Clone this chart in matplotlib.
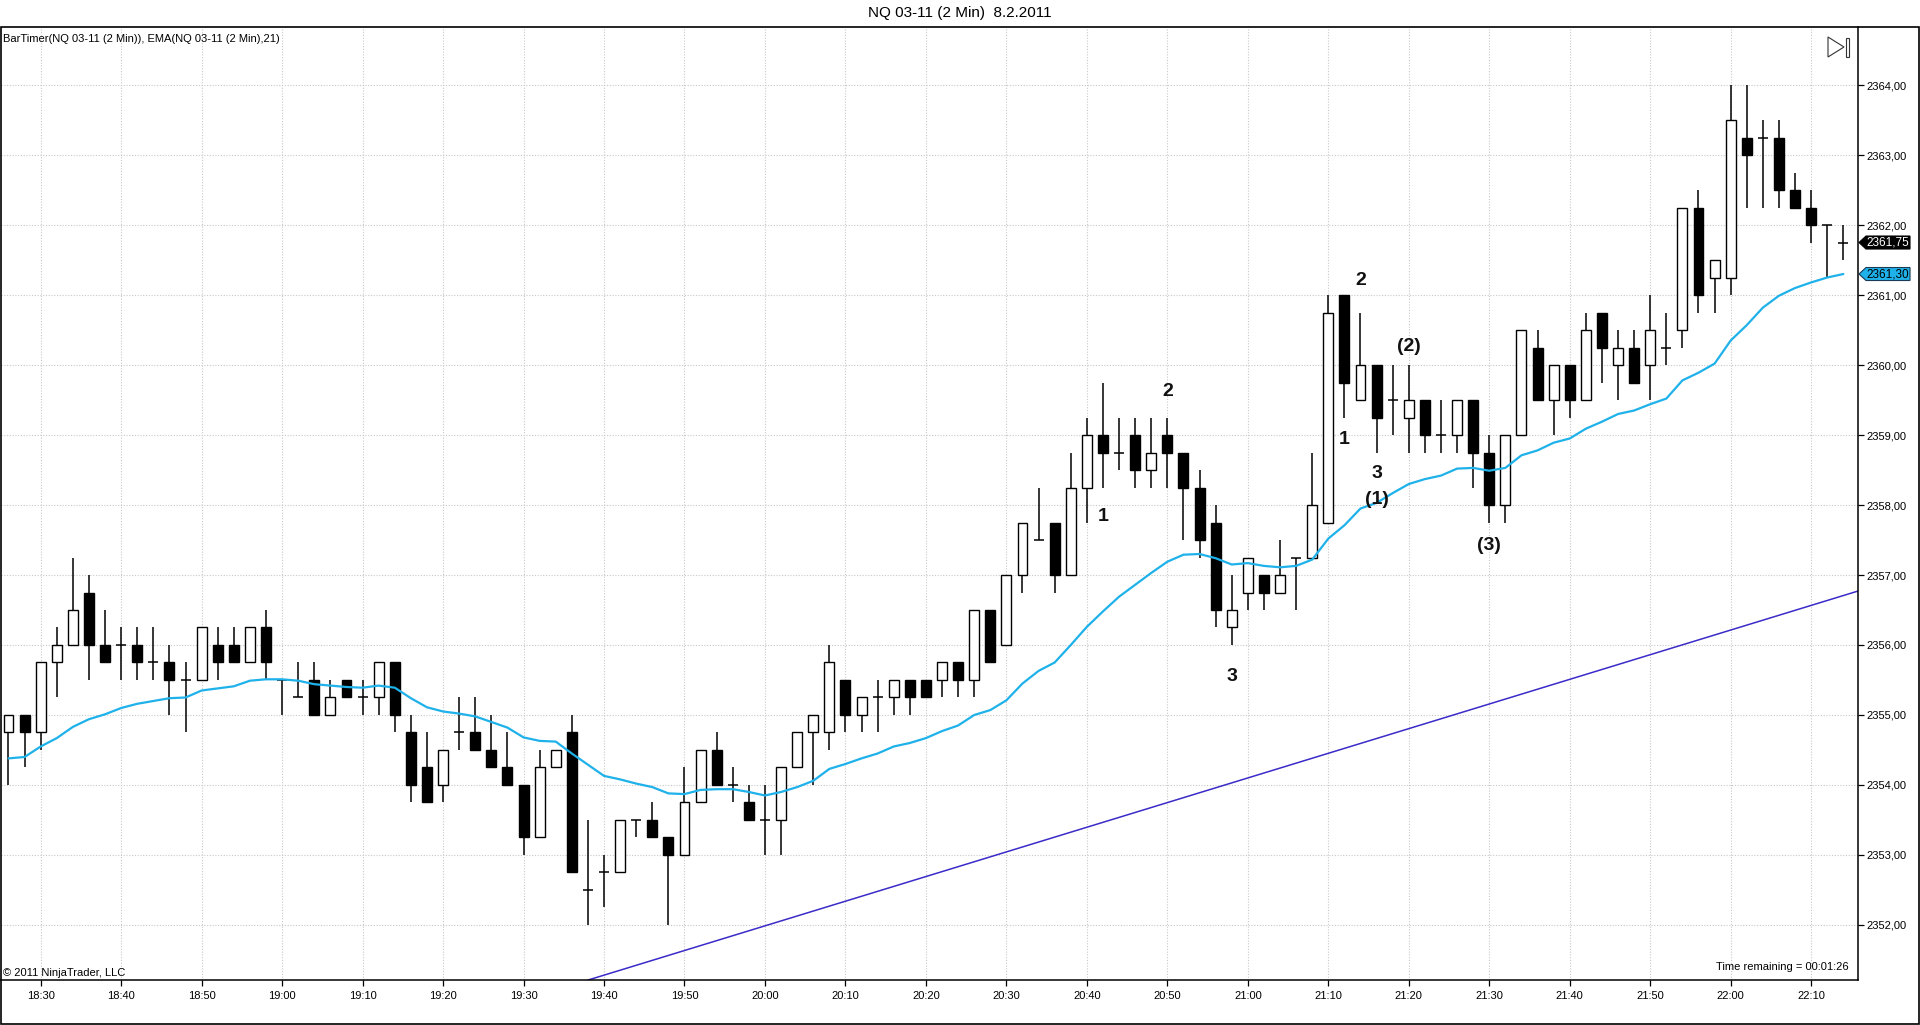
import matplotlib
matplotlib.use("Agg")
import matplotlib.pyplot as plt
import matplotlib.transforms as mtransforms
from matplotlib.patches import Polygon, Rectangle
from matplotlib.ticker import FuncFormatter, FixedLocator

plt.rcParams['font.family'] = ['Liberation Sans', 'DejaVu Sans']

# ---------------- data ----------------
start_time = "18:26"          # first bar
bar_minutes = 2
opens = [2354.75, 2355.00, 2354.75, 2355.75, 2356.00, 2356.75, 2356.00, 2356.00, 2356.00, 2355.75,
         2355.75, 2355.50, 2355.50, 2356.00, 2356.00, 2355.75, 2356.25, 2355.50, 2355.25, 2355.50,
         2355.00, 2355.50, 2355.25, 2355.25, 2355.75, 2354.75, 2354.25, 2354.00, 2354.75, 2354.75,
         2354.50, 2354.25, 2354.00, 2353.25, 2354.25, 2354.75, 2352.50, 2352.75, 2352.75, 2353.50,
         2353.50, 2353.25, 2353.00, 2353.75, 2354.50, 2354.00, 2353.75, 2353.50, 2353.50, 2354.25,
         2354.75, 2354.75, 2355.50, 2355.00, 2355.25, 2355.25, 2355.50, 2355.50, 2355.50, 2355.75,
         2355.50, 2356.50, 2356.00, 2357.00, 2357.50, 2357.75, 2357.00, 2358.25, 2359.00, 2358.75,
         2359.00, 2358.50, 2359.00, 2358.75, 2358.25, 2357.75, 2356.25, 2356.75, 2357.00, 2356.75,
         2357.25, 2357.25, 2357.75, 2361.00, 2359.50, 2360.00, 2359.50, 2359.25, 2359.50, 2359.00,
         2359.00, 2359.50, 2358.75, 2358.00, 2359.00, 2360.25, 2359.50, 2360.00, 2359.50, 2360.75,
         2360.00, 2360.25, 2360.00, 2360.25, 2360.50, 2362.25, 2361.25, 2361.25, 2363.25, 2363.25,
         2363.25, 2362.50, 2362.25, 2362.00, 2361.75]
highs = [2355.00, 2355.00, 2355.75, 2356.25, 2357.25, 2357.00, 2356.50, 2356.25, 2356.25, 2356.25,
         2356.00, 2355.75, 2356.25, 2356.25, 2356.25, 2356.25, 2356.50, 2355.50, 2355.75, 2355.75,
         2355.50, 2355.50, 2355.50, 2355.75, 2355.75, 2355.00, 2354.75, 2354.50, 2355.25, 2355.25,
         2355.00, 2354.75, 2354.00, 2354.50, 2354.50, 2355.00, 2353.50, 2353.00, 2353.50, 2353.50,
         2353.75, 2353.25, 2354.25, 2354.50, 2354.75, 2354.25, 2354.00, 2354.00, 2354.25, 2354.75,
         2355.00, 2356.00, 2355.50, 2355.25, 2355.50, 2355.50, 2355.50, 2355.50, 2355.75, 2355.75,
         2356.50, 2356.50, 2357.00, 2357.75, 2358.25, 2357.75, 2358.75, 2359.25, 2359.75, 2359.25,
         2359.25, 2359.25, 2359.25, 2358.75, 2358.50, 2358.00, 2357.00, 2357.25, 2357.00, 2357.50,
         2357.25, 2358.75, 2361.00, 2361.00, 2360.75, 2360.00, 2360.00, 2360.00, 2359.50, 2359.50,
         2359.50, 2359.50, 2359.00, 2359.00, 2360.50, 2360.50, 2360.00, 2360.00, 2360.75, 2360.75,
         2360.50, 2360.50, 2361.00, 2360.75, 2362.25, 2362.50, 2361.50, 2364.00, 2364.00, 2363.50,
         2363.50, 2362.75, 2362.50, 2362.00, 2362.00]
lows = [2354.00, 2354.25, 2354.50, 2355.25, 2356.00, 2355.50, 2355.75, 2355.50, 2355.50, 2355.50,
        2355.00, 2354.75, 2355.50, 2355.50, 2355.75, 2355.75, 2355.50, 2355.00, 2355.25, 2355.00,
        2355.00, 2355.25, 2355.00, 2355.00, 2354.75, 2353.75, 2353.75, 2353.75, 2354.50, 2354.50,
        2354.25, 2354.00, 2353.00, 2353.25, 2354.25, 2352.75, 2352.00, 2352.25, 2352.75, 2353.25,
        2353.25, 2352.00, 2353.00, 2353.75, 2354.00, 2353.75, 2353.50, 2353.00, 2353.00, 2354.25,
        2354.00, 2354.50, 2354.75, 2354.75, 2354.75, 2355.00, 2355.00, 2355.25, 2355.25, 2355.25,
        2355.25, 2355.75, 2356.00, 2356.75, 2357.50, 2356.75, 2357.00, 2357.75, 2358.25, 2358.50,
        2358.25, 2358.25, 2358.25, 2357.50, 2357.25, 2356.25, 2356.00, 2356.50, 2356.50, 2356.75,
        2356.50, 2357.25, 2357.75, 2359.25, 2359.50, 2358.75, 2359.00, 2358.75, 2358.75, 2358.75,
        2358.75, 2358.25, 2357.75, 2357.75, 2359.00, 2359.50, 2359.00, 2359.25, 2359.50, 2359.75,
        2359.50, 2359.75, 2359.50, 2360.00, 2360.25, 2360.75, 2360.75, 2361.00, 2362.25, 2362.25,
        2362.25, 2362.25, 2361.75, 2361.25, 2361.50]
closes = [2355.00, 2354.75, 2355.75, 2356.00, 2356.50, 2356.00, 2355.75, 2356.00, 2355.75, 2355.75,
          2355.50, 2355.50, 2356.25, 2355.75, 2355.75, 2356.25, 2355.75, 2355.50, 2355.25, 2355.00,
          2355.25, 2355.25, 2355.25, 2355.75, 2355.00, 2354.00, 2353.75, 2354.50, 2354.75, 2354.50,
          2354.25, 2354.00, 2353.25, 2354.25, 2354.50, 2352.75, 2352.50, 2352.75, 2353.50, 2353.50,
          2353.25, 2353.00, 2353.75, 2354.50, 2354.00, 2354.00, 2353.50, 2353.50, 2354.25, 2354.75,
          2355.00, 2355.75, 2355.00, 2355.25, 2355.25, 2355.50, 2355.25, 2355.25, 2355.75, 2355.50,
          2356.50, 2355.75, 2357.00, 2357.75, 2357.50, 2357.00, 2358.25, 2359.00, 2358.75, 2358.75,
          2358.50, 2358.75, 2358.75, 2358.25, 2357.50, 2356.50, 2356.50, 2357.25, 2356.75, 2357.00,
          2357.25, 2358.00, 2360.75, 2359.75, 2360.00, 2359.25, 2359.50, 2359.50, 2359.00, 2359.00,
          2359.50, 2358.75, 2358.00, 2359.00, 2360.50, 2359.50, 2360.00, 2359.50, 2360.50, 2360.25,
          2360.25, 2359.75, 2360.50, 2360.25, 2362.25, 2361.00, 2361.50, 2363.50, 2363.00, 2363.25,
          2362.50, 2362.25, 2362.00, 2362.00, 2361.75]
ema21 = [2354.38, 2354.40, 2354.55, 2354.67, 2354.83, 2354.94, 2355.01, 2355.10, 2355.16, 2355.20,
         2355.24, 2355.25, 2355.35, 2355.38, 2355.41, 2355.49, 2355.51, 2355.51, 2355.49, 2355.44,
         2355.42, 2355.40, 2355.39, 2355.42, 2355.39, 2355.24, 2355.11, 2355.05, 2355.02, 2354.98,
         2354.90, 2354.82, 2354.68, 2354.63, 2354.62, 2354.45, 2354.29, 2354.13, 2354.08, 2354.02,
         2353.97, 2353.88, 2353.87, 2353.93, 2353.94, 2353.94, 2353.90, 2353.85, 2353.90, 2353.97,
         2354.06, 2354.23, 2354.30, 2354.38, 2354.45, 2354.55, 2354.60, 2354.67, 2354.77, 2354.85,
         2355.00, 2355.07, 2355.21, 2355.45, 2355.63, 2355.75, 2356.00, 2356.26, 2356.48, 2356.69,
         2356.86, 2357.03, 2357.19, 2357.29, 2357.30, 2357.24, 2357.15, 2357.17, 2357.13, 2357.11,
         2357.13, 2357.22, 2357.52, 2357.71, 2357.95, 2358.03, 2358.17, 2358.30, 2358.37, 2358.42,
         2358.52, 2358.53, 2358.49, 2358.53, 2358.71, 2358.78, 2358.89, 2358.95, 2359.09, 2359.19,
         2359.30, 2359.35, 2359.44, 2359.52, 2359.78, 2359.89, 2360.02, 2360.35, 2360.57, 2360.82,
         2360.99, 2361.10, 2361.18, 2361.25, 2361.30]
time_labels = ["18:30", "18:40", "18:50", "19:00", "19:10", "19:20", "19:30", "19:40", "19:50",
               "20:00", "20:10", "20:20", "20:30", "20:40", "20:50", "21:00", "21:10", "21:20",
               "21:30", "21:40", "21:50", "22:00", "22:10"]
price_ticks = [2352, 2353, 2354, 2355, 2356, 2357, 2358, 2359, 2360, 2361, 2362, 2363, 2364]
# trend line anchors (bar index, price)
trend_x = [35.96, 114.9]
trend_y = [2351.21, 2356.77]
# wave labels (bar index, price, text)
label_x = [68, 72, 76, 83, 84, 85, 85, 87, 92]
label_y = [2357.83, 2359.62, 2355.55, 2358.93, 2361.21, 2358.45, 2358.08, 2360.26, 2357.42]
label_t = ["1", "2", "3", "1", "2", "3", "(1)", "(2)", "(3)"]

title = "NQ 03-11 (2 Min)  8.2.2011"
indicator_text = "BarTimer(NQ 03-11 (2 Min)), EMA(NQ 03-11 (2 Min),21)"

# ---------------- figure ----------------
W, H = 1920, 1025
fig = plt.figure(figsize=(W / 100, H / 100), dpi=100)
fig.patch.set_facecolor("white")


def fx(x):
    return x / W


def fy(y):
    return 1 - y / H


ax_left, ax_right, ax_top, ax_bot = 0.5, 1858, 27, 980
ax = fig.add_axes([fx(ax_left), fy(ax_bot), (ax_right - ax_left) / W, (ax_bot - ax_top) / H])
ax.set_facecolor("white")

n = len(opens)
xs = list(range(n))
body_w = 0.62

# grid
for p in price_ticks:
    ax.axhline(p, color="#C8C8C8", lw=0.8, ls=(0, (1, 1.5)), zorder=0)


def to_min(t):
    h, m = t.split(":")
    return int(h) * 60 + int(m)


t0 = to_min(start_time)
tick_pos = [(to_min(t) - t0) / bar_minutes for t in time_labels]
for tp in tick_pos:
    ax.axvline(tp, color="#C8C8C8", lw=0.8, ls=(0, (1, 1.5)), zorder=0)

# trend line
ax.axline((trend_x[0], trend_y[0]), (trend_x[1], trend_y[1]), color="#3B2BC8", lw=1.1, zorder=1)

# wicks
ax.vlines(xs, lows, highs, color="black", lw=1.1, zorder=2)
# bodies
for i in xs:
    o, c = opens[i], closes[i]
    if o == c:
        ax.hlines(o, i - body_w / 2, i + body_w / 2, color="black", lw=1.1, zorder=3)
    else:
        face = "white" if c > o else "black"
        ax.add_patch(Rectangle((i - body_w / 2, min(o, c)), body_w, abs(c - o),
                               facecolor=face, edgecolor="black", lw=1.0, zorder=3))

# EMA
ax.plot(xs, ema21, color="#1FB1EA", lw=1.6, zorder=4, solid_capstyle="round")

# labels
for lx, ly, lt in zip(label_x, label_y, label_t):
    ax.text(lx, ly, lt, ha="center", va="center", fontsize=14, fontweight="bold",
            color="#111111", zorder=5)

ax.set_xlim(-0.497, 114.91)
ax.set_ylim(2351.214, 2364.829)

ax.yaxis.tick_right()
ax.yaxis.set_major_locator(FixedLocator(price_ticks))
ax.yaxis.set_major_formatter(FuncFormatter(lambda v, p: f"{v:.2f}".replace(".", ",")))
ax.xaxis.set_major_locator(FixedLocator(tick_pos))
ax.set_xticklabels(time_labels)
ax.tick_params(axis="both", direction="out", length=4, width=0.9, labelsize=8, colors="black")
ax.tick_params(axis="y", pad=2)
ax.tick_params(axis="x", pad=4)
for s in ["left", "top"]:
    ax.spines[s].set_visible(False)
ax.spines["right"].set_linewidth(1.1)
ax.spines["bottom"].set_linewidth(1.1)

# price markers on right axis
blend = mtransforms.blended_transform_factory(ax.transAxes, ax.transData)
px_ax = 1 / (ax_right - ax_left)
ppp = 70.0  # pixels per point


def marker(price, face, edge, tcolor):
    tip = 1 + 1 * px_ax
    x1 = 1 + 8 * px_ax
    x2 = 1 + 52 * px_ax
    hh = 6.5 / ppp
    poly = Polygon([(tip, price), (x1, price + hh), (x2, price + hh), (x2, price - hh), (x1, price - hh)],
                   closed=True, facecolor=face, edgecolor=edge, lw=0.8, transform=blend, clip_on=False,
                   zorder=10)
    ax.add_patch(poly)
    ax.text((x1 + x2) / 2, price, f"{price:.2f}".replace(".", ","), transform=blend, ha="center",
            va="center", fontsize=8.5, color=tcolor, clip_on=False, zorder=11)


marker(closes[-1], "black", "black", "white")
marker(ema21[-1], "#1FB1EA", "#1A3A55", "black")

# texts
fig.text(fx(960), fy(13), title, ha="center", va="center", fontsize=11)
fig.text(fx(3), fy(39), indicator_text, ha="left", va="center", fontsize=8)
fig.text(fx(3), fy(973), "\u00a9 2011 NinjaTrader, LLC", ha="left", va="center", fontsize=8)
fig.text(fx(1849), fy(967), "Time remaining = 00:01:26", ha="right", va="center", fontsize=8)

# outer frame
fig.patches.append(Rectangle((fx(0.7), fy(1024.3)), fx(1918.6), (1024.3 - 27) / H, fill=False,
                             edgecolor="black", lw=1.2, transform=fig.transFigure, figure=fig))

# scroll glyph top-right
tri = Polygon([(fx(1828), fy(37)), (fx(1828), fy(57)), (fx(1844), fy(47))], closed=True, fill=False,
              edgecolor="#333333", lw=0.8, transform=fig.transFigure, figure=fig)
fig.patches.append(tri)
fig.patches.append(Rectangle((fx(1845.5), fy(57)), fx(3), 19 / H, fill=False, edgecolor="#333333",
                             lw=0.8, transform=fig.transFigure, figure=fig))

fig.savefig("out.png", dpi=100)
